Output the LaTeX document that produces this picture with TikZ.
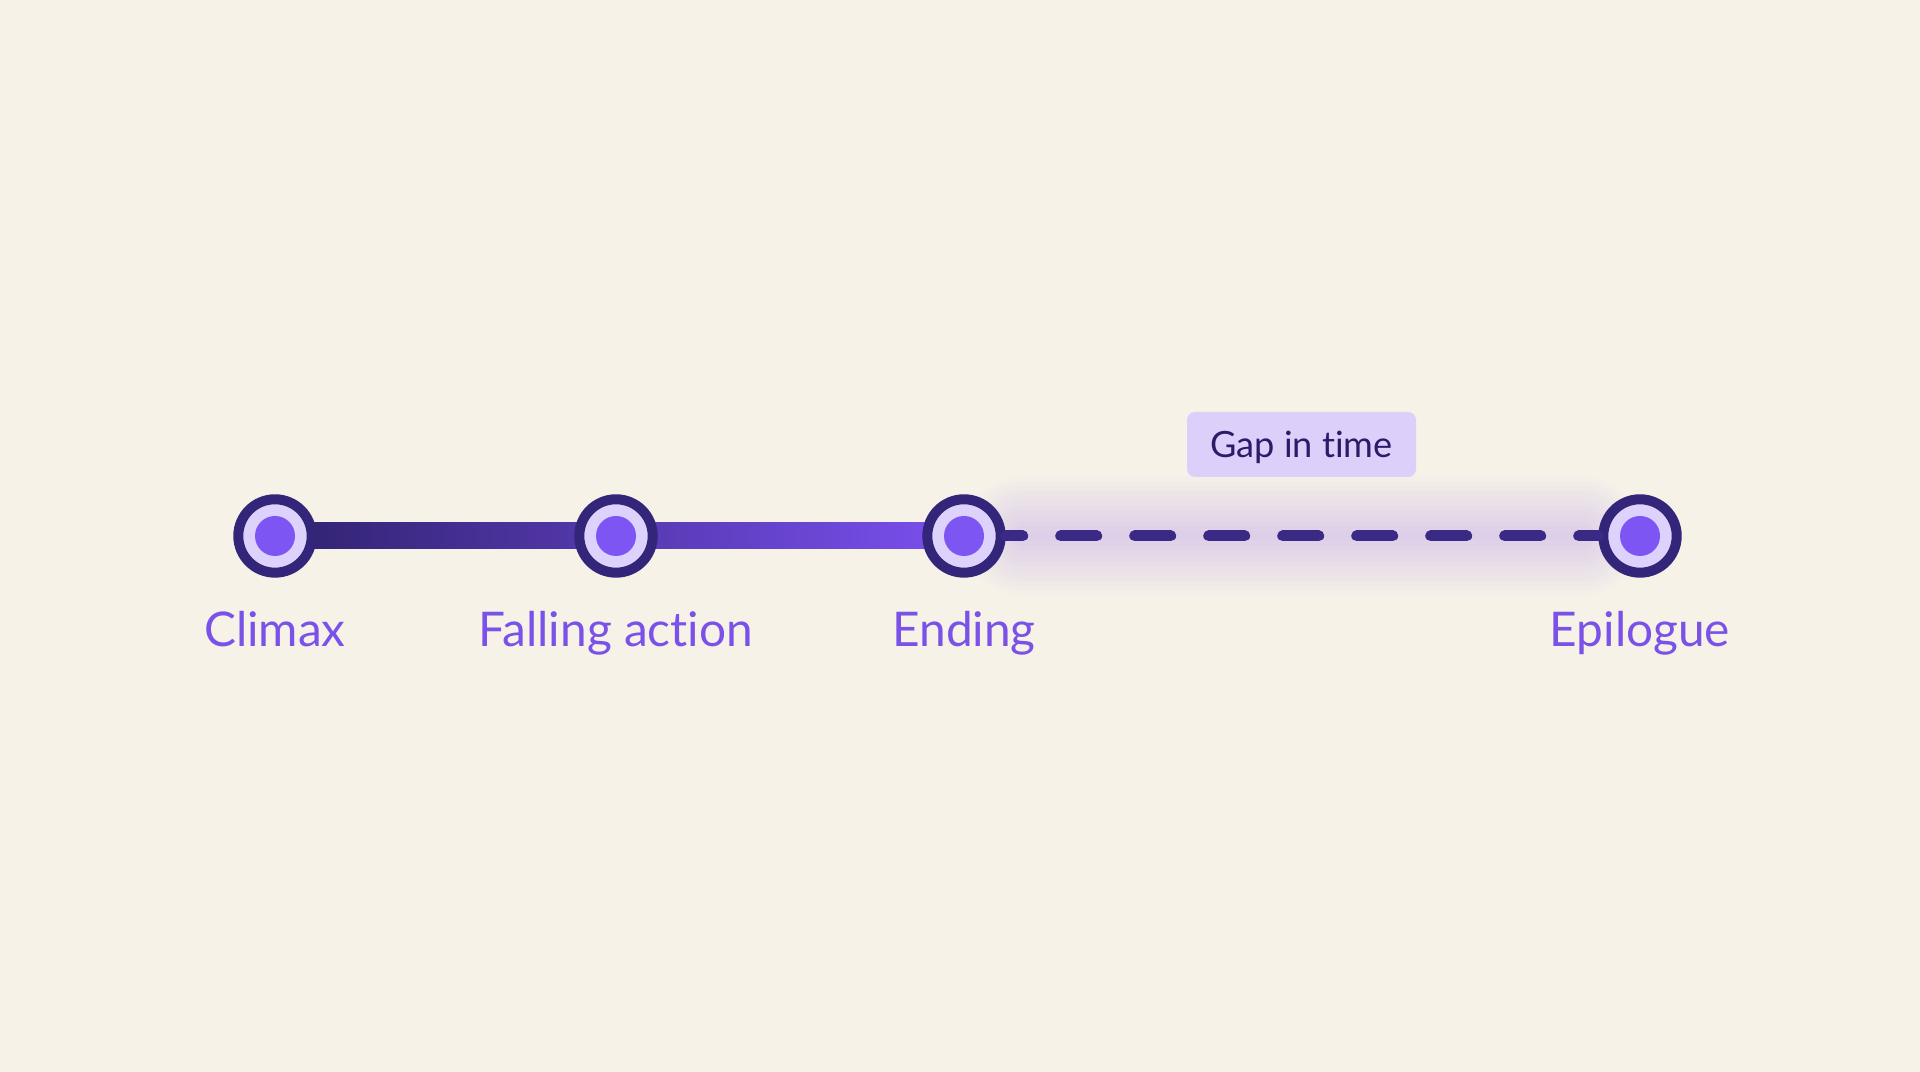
\documentclass[tikz,border=0pt]{standalone}
\usepackage{fontspec}
\setmainfont{Lato}[Ligatures={NoCommon}]
\usetikzlibrary{backgrounds,calc}
\definecolor{paper}{HTML}{F7F2E8}
\definecolor{ringc}{HTML}{33257A}
\definecolor{haloc}{HTML}{DDD2FB}
\definecolor{dotc}{HTML}{7C55F2}
\definecolor{labelc}{HTML}{7A52E8}
\definecolor{linea}{HTML}{30226F}
\definecolor{lineb}{HTML}{4E33A8}
\definecolor{linec}{HTML}{7B50F0}
\definecolor{dashc}{HTML}{3A2A85}
\definecolor{glowc}{HTML}{A98BF2}
\definecolor{boxc}{HTML}{DCD0FB}
\definecolor{gaptext}{HTML}{2D1B69}

\begin{document}
\begin{tikzpicture}[
    stage/.style={circle, draw=ringc, line width=1mm, fill=haloc,
      inner sep=0pt, minimum size=7.34mm,
      path picture={\fill[dotc] (path picture bounding box.center) circle (2mm);}},
    caption/.style={anchor=base, text=labelc, font=\fontsize{13.6}{16}\selectfont},
    gapbox/.style={fill=boxc, rounded corners=0.8mm, inner sep=0pt,
      minimum width=22.9mm, minimum height=6.5mm, text height=7.4pt, text depth=0pt,
      text=gaptext, font=\fontsize{10.3}{12}\selectfont}
    ]
  \node[stage] (climax) at (2.75,5.36) {};
  \node[stage] (falling) at (6.16,5.36) {};
  \node[stage] (ending) at (9.64,5.36) {};
  \node[stage] (epilogue) at (16.40,5.36) {};
  \node[caption] (climaxtext) at (2.75,4.25) {Climax};
  \node[caption] (fallingtext) at (6.16,4.25) {Falling action};
  \node[caption] (endingtext) at (9.64,4.25) {Ending};
  \node[caption] (epiloguetext) at (16.40,4.25) {Epilogue};
  \node[gapbox] (gap) at (13.015,6.275) {Gap in time};
\begin{scope}[on background layer]
  \fill[paper] (0,0) rectangle (19.2,10.72);
  \foreach \w in {1,...,12}
    \draw[glowc, opacity=0.028, line width=0.1*\w cm, line cap=round]
      ($(ending.center)+(0.6,0)$) -- ($(epilogue.center)+(-0.6,0)$);
  \shade[left color=linea, middle color=lineb, right color=linec]
    ($(climax.center)+(0,-0.13)$) rectangle ($(ending.center)+(0,0.13)$);
\end{scope}
\draw[dashc, line width=1.1mm, line cap=round, dash pattern=on 3.6mm off 3.8mm, dash phase=1.9mm]
  (ending.east) -- (epilogue.west);
\end{tikzpicture}
\end{document}
